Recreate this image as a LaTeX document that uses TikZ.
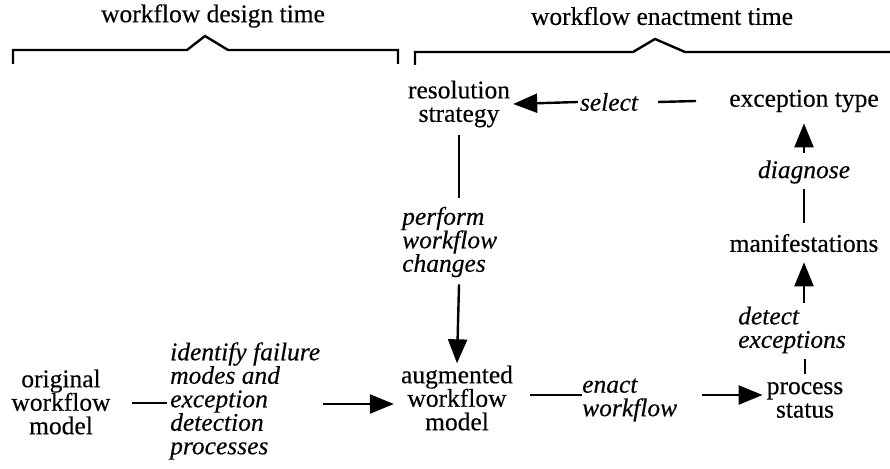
\documentclass[tikz,border=0pt]{standalone}
\usepackage{fontspec}
\setmainfont[FakeBold=0.3]{Liberation Serif}
\usetikzlibrary{arrows.meta}
\tikzset{
  txt/.style={inner sep=0pt, font=\fontsize{25.5}{23.5}\selectfont, align=center},
  itxt/.style={inner sep=0pt, font=\fontsize{25.5}{23.5}\selectfont\itshape, align=left},
  conn/.style={line width=2.4pt},
  arr/.style={line width=2.4pt, -{Triangle[length=24pt,width=19pt]}},
  brk/.style={line width=2.4pt}
}
\begin{document}
\begin{tikzpicture}[x=1pt,y=-1pt]
\useasboundingbox (0,0) rectangle (890,468);
% headers
\node[txt] (design) at (213,16) {workflow design time};
\node[txt] (enactt) at (662,16) {workflow enactment time};
\draw[brk] (13,64) -- (13,50) -- (187,50) -- (205,36) -- (228,50) -- (398,50) -- (398,64);
\draw[brk] (415,65) -- (415,52) -- (633,52) -- (655,39) -- (685,52) -- (890,52);
% nodes
\node[txt] (resstrat) at (459,104) {resolution\\strategy};
\node[txt] (exctype) at (804,101) {exception type};
\node[itxt] (select) at (609,102) {select};
\node[itxt] (diag) at (804,172) {diagnose};
\node[txt] (manif) at (804,243) {manifestations};
\node[itxt, anchor=west] (detect) at (738,330) {detect\\exceptions};
\node[txt] (proc) at (805,400) {process\\status};
\node[itxt, anchor=west] (enact) at (582,400) {enact\\workflow};
\node[txt] (aug) at (457,398) {augmented\\workflow\\model};
\node[itxt, anchor=west] (perform) at (402,242) {perform\\workflow\\changes};
\node[txt] (orig) at (61,402) {original\\workflow\\model};
\node[itxt, anchor=west] (ident) at (170,401) {identify failure\\modes and\\exception\\detection\\processes};
% connectors
\draw[conn] ([xshift=-33pt]exctype.west) -- ([xshift=20pt]select.east);
\draw[arr] ([xshift=-2pt]select.west) -- ([xshift=3pt]resstrat.east);
\draw[arr] ([yshift=7pt]diag.north) -- ([yshift=-11pt]exctype.south);
\draw[conn] ([yshift=-5pt]diag.south) -- ([yshift=11pt]manif.north);
\draw[arr] ([yshift=3pt]manif.south |- detect.north) -- ([yshift=-10pt]manif.south);
\draw[conn] ([yshift=-5pt]proc.north |- detect.south) -- ([yshift=8pt]proc.north);
\draw[conn] ([yshift=-7pt]resstrat.south) -- ([yshift=9pt]resstrat.south |- perform.north);
\draw[arr] ([yshift=-7pt]resstrat.south |- perform.south) -- ([yshift=2pt]aug.north);
\draw[conn] ([xshift=21pt,yshift=-1pt]orig.east) -- ([xshift=-3pt,yshift=-1pt]orig.east -| ident.west);
\draw[arr] ([xshift=3pt,yshift=-3pt]ident.east) -- ([xshift=-7pt,yshift=-3pt]ident.east -| aug.west);
\draw[conn] ([xshift=17pt,yshift=3pt]aug.east) -- ([yshift=3pt]aug.east -| enact.west);
\draw[arr] ([xshift=25pt,yshift=5pt]enact.east) -- ([xshift=-4pt,yshift=5pt]enact.east -| proc.west);
\end{tikzpicture}
\end{document}
